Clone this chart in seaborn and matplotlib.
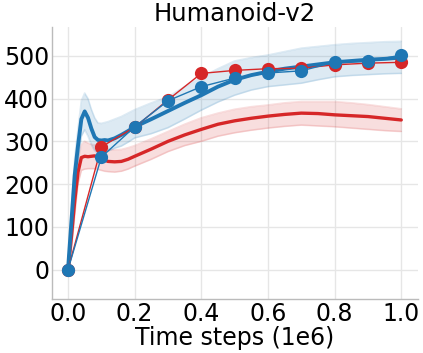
import matplotlib
matplotlib.use("Agg")
import matplotlib.pyplot as plt
import seaborn as sns
import numpy as np
import pandas as pd

# ---- data ----
x_curve = [0, 0.01, 0.02, 0.03, 0.04, 0.05, 0.06, 0.07, 0.08, 0.09, 0.10, 0.11, 0.12,
           0.14, 0.16, 0.18, 0.20, 0.25, 0.30, 0.35, 0.40, 0.45, 0.50, 0.55, 0.60,
           0.65, 0.70, 0.75, 0.80, 0.85, 0.90, 0.95, 1.00]

blue_mean = [0, 110, 220, 290, 352, 370, 355, 330, 310, 303, 302, 303, 302,
             307, 315, 324, 334, 352, 371, 390, 408, 428, 444, 455, 463,
             470, 475, 480, 485, 488, 491, 493, 496]
blue_upper = [0, 140, 260, 330, 395, 413, 400, 375, 355, 343, 342, 344, 346,
              352, 358, 366, 374, 390, 404, 428, 450, 470, 488, 496, 502,
              510, 518, 522, 526, 529, 531, 533, 534]
blue_lower = [0, 80, 180, 250, 312, 327, 312, 292, 278, 272, 272, 274, 277,
              284, 289, 298, 308, 318, 332, 352, 373, 392, 408, 420, 428,
              432, 436, 444, 451, 454, 456, 458, 459]

red_mean = [0, 75, 160, 228, 262, 265, 264, 265, 266, 262, 260, 256, 253,
            252, 253, 258, 265, 282, 300, 315, 328, 340, 348, 354, 359,
            363, 366, 365, 362, 360, 358, 354, 350]
red_upper = [0, 100, 190, 255, 292, 300, 296, 293, 292, 290, 287, 284, 282,
             280, 281, 285, 290, 306, 323, 340, 355, 366, 375, 381, 385,
             390, 393, 393, 393, 390, 386, 381, 376]
red_lower = [0, 45, 125, 200, 232, 235, 236, 236, 236, 234, 232, 230, 229,
             228, 230, 235, 242, 258, 276, 290, 300, 312, 320, 326, 331,
             335, 338, 336, 334, 331, 328, 325, 323]

x_eval = [0.0, 0.1, 0.2, 0.3, 0.4, 0.5, 0.6, 0.7, 0.8, 0.9, 1.0]
blue_eval = [0, 263, 334, 395, 428, 448, 460, 465, 485, 487, 502]
red_eval = [0, 287, 333, 397, 459, 466, 470, 471, 479, 483, 485]

x_ticks = [0.0, 0.2, 0.4, 0.6, 0.8, 1.0]
y_ticks = [0, 100, 200, 300, 400, 500]

RED = "#d62728"
BLUE = "#1f77b4"

sns.set_theme(style="whitegrid")
plt.rcParams["font.family"] = ["DejaVu Sans"]
plt.rcParams["text.color"] = "black"
plt.rcParams["axes.labelcolor"] = "black"

fig = plt.figure(figsize=(4.23, 3.53), dpi=100)
ax = fig.add_axes([0.123, 0.153, 0.865, 0.771])

curves = pd.DataFrame({"x": x_curve, "blue": blue_mean, "red": red_mean})
evals = pd.DataFrame({"x": x_eval, "blue": blue_eval, "red": red_eval})

# bands
for lo, hi, c in [(red_lower, red_upper, RED), (blue_lower, blue_upper, BLUE)]:
    ax.fill_between(x_curve, lo, hi, color=c, alpha=0.15, lw=0)
    ax.plot(x_curve, lo, color=c, alpha=0.15, lw=1.2)
    ax.plot(x_curve, hi, color=c, alpha=0.15, lw=1.2)

# mean curves
sns.lineplot(data=curves, x="x", y="red", color=RED, lw=2.4, ax=ax)
sns.lineplot(data=curves, x="x", y="blue", color=BLUE, lw=2.8, ax=ax)

# evaluation markers
sns.lineplot(data=evals, x="x", y="red", color=RED, lw=1.0, marker="o",
             markersize=9.5, markeredgewidth=0, ax=ax)
sns.lineplot(data=evals, x="x", y="blue", color=BLUE, lw=1.0, marker="o",
             markersize=9.5, markeredgewidth=0, ax=ax)

ax.set_xlim(-0.048, 1.05)
ax.set_ylim(-69, 568)
ax.set_xticks(x_ticks)
ax.set_xticklabels([f"{t:.1f}" for t in x_ticks])
ax.set_yticks(y_ticks)
ax.tick_params(axis="both", labelsize=17, length=0, pad=2, colors="black")
ax.set_xlabel("Time steps (1e6)", fontsize=17, labelpad=0, color="black")
ax.set_ylabel("")
ax.set_title("Humanoid-v2", fontsize=17.5, pad=4, color="black")
ax.grid(True, color="#e6e6e6", lw=1.0)
sns.despine(ax=ax)
for s in ["left", "bottom"]:
    ax.spines[s].set_color("#bbbbbb")
    ax.spines[s].set_linewidth(1.0)

fig.savefig("out.png", dpi=100)
